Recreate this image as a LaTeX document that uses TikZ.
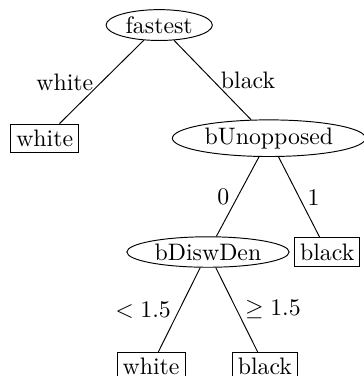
\documentclass[tikz,border=0pt]{standalone}
\usepackage{amsmath}
\usepackage{amssymb}
\usepackage{tikz}
\usetikzlibrary{shapes.geometric}
\usetikzlibrary{positioning}
\tikzset{test/.style = {draw, ellipse, inner xsep = 1.7pt, inner ysep = 1pt}}
\tikzset{leaf/.style = {draw, rectangle, inner xsep = 2.3pt, inner ysep = 2.4pt}}

\begin{document}
\begin{tikzpicture}
    \useasboundingbox (0, 0) rectangle (5.37, -5.55);

    \node [test] (fastest) at (2.35, -0.37) {fastest};
    \node [leaf] (white1) at (0.66, -2.04) {white};
    \node [test] (bunopp) at (3.97, -2.04) {bUnopposed};
    \draw (fastest) -- node [left] {white} (white1);
    \draw (fastest) -- node [right] {black} (bunopp);

    \node [test] (bdisw) at (3.07, -3.72) {bDiswDen};
    \node [leaf] (black1) at (4.83, -3.72) {black};
    \draw (bunopp) -- node [left] {0} (bdisw);
    \draw (bunopp) -- node [right] {1} (black1);

    \node [leaf] (white2) at (2.23, -5.41) {white};
    \node [leaf] (black2) at (3.91, -5.41) {black};
    \draw (bdisw) -- node [left] {$<1.5$} (white2);
    \draw (bdisw) -- node [right] {$\geq1.5$} (black2);
  \end{tikzpicture}
\end{document}
